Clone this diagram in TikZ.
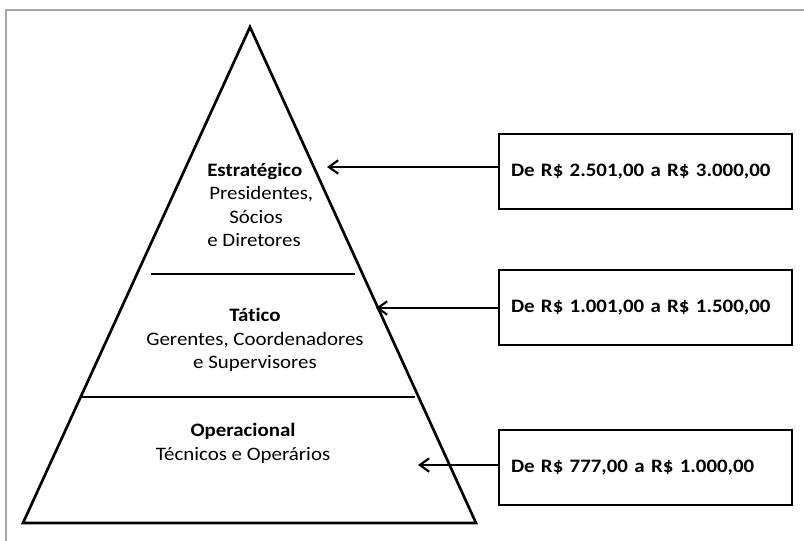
\documentclass[tikz,border=0pt]{standalone}
\usepackage{fontspec}
\setmainfont{Carlito}[FakeStretch=1.1, Ligatures=NoCommon]
\usetikzlibrary{arrows.meta}

\begin{document}
\begin{tikzpicture}[x=0.75pt,y=-0.75pt,level/.style={inner sep=0pt, font=\fontsize{14.25}{17.5}\selectfont},salary/.style={rectangle, draw, line width=2pt, minimum width=219.75pt, minimum height=56.25pt, inner xsep=9pt, text width=201.75pt, align=left, font=\fontsize{14.25}{17.5}\selectfont\bfseries},seta/.style={-{Straight Barb[length=7pt,width=10pt]}, line width=1.6pt}]
	\useasboundingbox (0,0) rectangle (804,541);

	% frame
	\draw[gray!70, line width=1.1pt] (6,541) -- (6,10) -- (804,10);

	% pyramid
	\draw[line width=2pt, line join=miter] (250,27) -- (476,523) -- (23,523) -- cycle;
	\draw[line width=0.8pt] (151,274) -- (355,274);
	\draw[line width=0.8pt] (82,397) -- (415,397);

	% nodes
	\node[level, align=left, anchor=west] (strat) at (207,205) {\textbf{Estratégico}\\ \hspace*{1.5pt}Presidentes,\\ \hspace*{16.5pt}Sócios\\ e Diretores}; %
	\node[level, align=center] (tatic) at (255,340) {\textbf{Tát\kern0pt ico}\\ Gerentes, Coordenadores\\ e Supervisores}; %
	\node[level, align=center] (oper) at (243,443.5) {\textbf{Operacional}\\ Técnicos e Operários}; %

	\node[salary] (faixa1) at (645.5,171.5) {De R\$ 2.501,00 a R\$ 3.000,00}; %
	\node[salary] (faixa2) at (645.5,307.5) {De R\$ 1.001,00 a R\$ 1.500,00}; %
	\node[salary] (faixa3) at (645.5,467.5) {De R\$ 777,00 a R\$ 1.000,00}; %

	\coordinate (ponta1) at (327,167);
	\coordinate (ponta2) at (376,308);
	\coordinate (ponta3) at (418,465);

	% edges
	\draw[seta] (faixa1.west |- ponta1) -- (ponta1);
	\draw[seta] (faixa2.west |- ponta2) -- (ponta2);
	\draw[seta] (faixa3.west |- ponta3) -- (ponta3);
\end{tikzpicture}
\end{document}
